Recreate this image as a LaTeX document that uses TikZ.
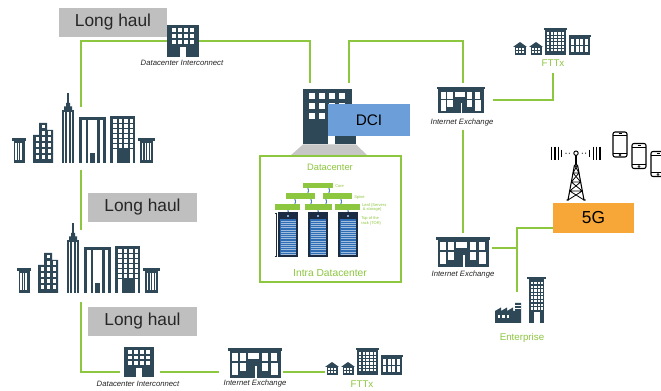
\documentclass[tikz,border=0pt]{standalone}
\usepackage{fontspec}
\setmainfont{Liberation Sans}
\usetikzlibrary{fit,arrows.meta}

\definecolor{linkgreen}{HTML}{8DC63F}
\definecolor{slate}{HTML}{2F4858}
\definecolor{haulgrey}{HTML}{BFBFBF}
\definecolor{dciblue}{HTML}{6C9FD9}
\definecolor{fiveg}{HTML}{F7A738}
\definecolor{rackblue}{HTML}{2E6DB4}
\definecolor{racknavy}{HTML}{1B2C42}
\definecolor{linkblue}{HTML}{4F81BD}
\definecolor{pedestal}{HTML}{C6C6C6}

\tikzset{
  link/.style={draw=linkgreen, line width=1.5pt},
  box/.style={inner sep=0pt, outer sep=0pt},
  bigtext/.style={inner sep=0pt, text=black!85, font=\fontsize{13}{15}\selectfont},
  haul/.style={box, fill=haulgrey},
  tag/.style={font=\fontsize{5.8}{6.5}\selectfont\itshape, text=black!85, inner sep=0pt},
  gtag/.style={font=\fontsize{7.3}{8.5}\selectfont, text=linkgreen, inner sep=0pt},
  tinytag/.style={font=\fontsize{3}{3.4}\selectfont, text=linkgreen, inner sep=0pt, align=left, anchor=west},
  bar/.style={fill=linkgreen},
  uplink/.style={draw=linkblue, line width=0.5pt, {Stealth[length=1pt,width=1.3pt]}-{Stealth[length=1pt,width=1.3pt]}},
  % small office block with a door
  office/.pic={
    \fill[slate] (0,0) rectangle (32,32);
    \foreach \i in {0,...,3}
      \foreach \j in {0,1,2}
        \fill[white] ({4.5+\i*6.2},{3.5+\j*5.6}) rectangle ++(4.2,4);
    \fill[white] (13,22) rectangle (19,32);
  },
  % exchange hall with cornice
  exchange/.pic={
    \fill[slate] (0,0) rectangle (54,2.6);
    \fill[slate] (1.5,2.6) rectangle (52.5,30);
    \foreach \x in {4,11.5,33.5,42.5}
      \fill[white] (\x,5.5) rectangle ++(6,8);
    \fill[white] (20,5.5) rectangle (31,11.5);
    \fill[white] (4,15.5) rectangle (10,27.5);
    \fill[white] (11.5,15.5) rectangle (17.5,23);
    \fill[white] (33.5,15.5) rectangle (39.5,23);
    \fill[white] (42.5,15.5) rectangle (49.5,27.5);
    \fill[white] (27,18) rectangle (28.6,30);
  },
  % homes and apartment blocks, origin at the left house base
  homes/.pic={
    \foreach \h in {0,16}{
      \fill[slate] ({\h-1},-8) -- ({\h+6},-13) -- ({\h+13},-8) -- cycle;
      \fill[slate] ({\h+0.5},-8) rectangle ({\h+11.5},0);
      \foreach \i in {0,1,2}
        \foreach \j in {0,1}
          \fill[white] ({\h+2+\i*3},{-6.5+\j*3}) rectangle ++(2,2);
    }
    \fill[slate] (30,-26.5) rectangle (53,-24.5);
    \fill[slate] (31,-24.5) rectangle (52,0);
    \foreach \i in {0,...,4}
      \foreach \j in {0,...,5}
        \fill[white] ({33+\i*3.7},{-22.5+\j*3.3}) rectangle ++(2.4,2.3);
    \fill[slate] (54.5,-19.5) rectangle (76.5,-17.5);
    \fill[slate] (55,-17.5) rectangle (76,0);
    \foreach \i in {0,...,3}
      \foreach \j in {0,1}
        \fill[white] ({57+\i*4.6},{-15.5+\j*7}) rectangle ++(3,6);
  },
  % city skyline
  skyline/.pic={
    % left kiosk
    \fill[slate] (12,138) rectangle (26,141);
    \fill[slate] (13.5,141) rectangle (24.5,163);
    \foreach \x in {15.3,17.8,20.3}
      \fill[white] (\x,143.5) rectangle ++(1.3,17);
    % stepped block
    \fill[slate] (39,123) -- (47,123) -- (47,130) -- (53,130) -- (53,163)
      -- (33,163) -- (33,135) -- (39,135) -- cycle;
    \fill[white] (41.5,125) rectangle ++(3.5,3.5);
    \foreach \j in {0,...,4}{
      \fill[white] (41.5,{131+\j*6}) rectangle ++(3.5,4);
      \fill[white] (47.5,{131+\j*6}) rectangle ++(3.5,4);
    }
    \foreach \j in {0,...,3}
      \fill[white] (35.5,{137+\j*6}) rectangle ++(3.5,4);
    % spire tower
    \draw[slate, line width=0.9pt] (68,93) -- (68,104);
    \fill[slate] (66,103) -- (70,103) -- (70,106.5) -- (72,106.5) -- (72,110)
      -- (64,110) -- (64,106.5) -- (66,106.5) -- cycle;
    \fill[slate] (62,110) rectangle (74,163);
    \foreach \x in {63.8,67.2,70.6}
      \fill[white] (\x,112) rectangle ++(1.6,51);
    % pillared tower
    \fill[slate] (79,117) rectangle (106,163);
    \fill[white] (82,120) rectangle (85.5,163);
    \fill[white] (88,120) rectangle (97,163);
    \fill[white] (99.5,120) rectangle (103,163);
    \fill[slate] (89.5,153) rectangle (95,163);
    % gridded tower
    \fill[slate] (110,116) rectangle (135,163);
    \foreach \i in {0,...,3}
      \foreach \j in {0,...,5}
        \fill[white] ({113+\i*5.5},{119+\j*5}) rectangle ++(3.5,4);
    \fill[white] (113,149) rectangle ++(3.5,14);
    \fill[white] (129.5,149) rectangle ++(3.5,14);
    % right kiosk
    \fill[slate] (138,138) rectangle (155,141);
    \fill[slate] (140,141) rectangle (153,163);
    \foreach \x in {142,144.7,147.4,150.1}
      \fill[white] (\x,143.5) rectangle ++(1.2,17);
  },
  % server rack
  rack/.pic={
    \fill[rackblue] (0,0) rectangle (18,43);
    \fill[racknavy] (0,0) rectangle (18,6);
    \fill[rackblue!60!white] (8,2) rectangle (10,4);
    \foreach \k in {0,...,15}
      \draw[rackblue!45!white, line width=0.3pt] (1.5,{8+\k*2.2}) -- (16.5,{8+\k*2.2});
    \draw[racknavy, line width=0.8pt] (0,0) rectangle (18,43);
  },
  % handset
  phone/.pic={
    \draw[black, line width=0.8pt, rounded corners=1.5pt] (0,0) rectangle (14,25);
    \draw[black, line width=0.5pt] (0,3.5) -- (14,3.5) (0,21) -- (14,21);
    \draw[black, line width=0.5pt] (5.5,1.8) -- (8.5,1.8);
    \draw[black, line width=0.4pt] (7,23) circle (0.9);
  },
}

\begin{document}
\begin{tikzpicture}[x=0.75pt, y=-0.75pt]
\useasboundingbox (0,0) rectangle (661,391);
\fill[white] (0,0) rectangle (661,391);

% ---------- long-haul banners ----------
\node[haul, fit={(59,8)(167,37)}] (lh1) {};
\node[bigtext] (lh1t) at (lh1.center) {Long haul};
\node[haul, fit={(88,193)(197,222)}] (lh2) {};
\node[bigtext] (lh2t) at (lh2.center) {Long haul};
\node[haul, fit={(88,307)(197,336)}] (lh3) {};
\node[bigtext] (lh3t) at (lh3.center) {Long haul};

% ---------- cities ----------
\node[box, fit={(12,93)(155,163)}] (city1) {};
\pic at (0,0) {skyline};
\node[box, fit={(17,223)(160,293)}] (city2) {};
\pic at (5,130) {skyline};

% ---------- datacenter interconnect offices ----------
\node[box, fit={(167,25)(199,57)}] (dcitop) {};
\pic at (dcitop.north west) {office};
\node[tag] (dcitopl) at (182,63) {Datacenter Interconnect};

\node[box, fit={(124,347)(154,378)}] (dcibot) {};
\pic[scale=0.95] at (dcibot.north west) {office};
\node[tag] (dcibotl) at (138,384) {Datacenter Interconnect};

% ---------- internet exchanges ----------
\node[box, fit={(437,87)(485,113)}] (ix1) {};
\pic[xscale=0.89, yscale=0.87] at (ix1.north west) {exchange};
\node[tag] (ix1l) at (462,123) {Internet Exchange};

\node[box, fit={(436,237)(490,267)}] (ix2) {};
\pic at (ix2.north west) {exchange};
\node[tag] (ix2l) at (463,275) {Internet Exchange};

\node[box, fit={(228,348)(282,378)}] (ixb) {};
\pic at (ixb.north west) {exchange};
\node[tag] (ixbl) at (255,384) {Internet Exchange};

% ---------- FTTx ----------
\node[box, fit={(513,29)(591,55)}] (ftt1) {};
\pic at (514,55) {homes};
\node[gtag] (ftt1l) at (553,63) {FTTx};

\node[box, fit={(325,349)(402,375)}] (ftt2) {};
\pic at (326,375) {homes};
\node[gtag] (ftt2l) at (362,384) {FTTx};

% ---------- DCI hub ----------
\fill[slate] (303,89) rectangle (352,144);
\foreach \i in {0,...,3}
  \foreach \j in {0,1,2}
    \fill[white] ({308.5+\i*10},{93+\j*10}) rectangle ++(6,6);
\fill[white] (328,134) rectangle (335,144);
\fill[slate] (335,134) rectangle (356,144);
\fill[pedestal] (303,144.5) -- (356,144.5) -- (368,156) -- (290,156) -- cycle;
\node[box, fill=dciblue, fit={(328,104)(410,136)}] (dci) {};
\node[bigtext, font=\fontsize{11.5}{13}\selectfont, text=black] (dcit) at (dci.center) {DCI};

% ---------- datacenter fabric ----------
\node[box, draw=linkgreen, line width=0.8pt, fit={(260,156)(401,282)}] (dc) {};
\node[gtag, font=\fontsize{7}{8}\selectfont] (dct) at (330,167) {Datacenter};
\node[gtag, font=\fontsize{7.7}{9}\selectfont] (dcb) at (330,273) {Intra Datacenter};

\fill[bar] (303,183) rectangle (333,188);
\fill[bar] (286,193) rectangle (315,199);
\fill[bar] (323,193) rectangle (352,199);
\fill[bar] (275,204) rectangle (300,210);
\fill[bar] (305,204) rectangle (332,210);
\fill[bar] (335,204) rectangle (360,210);
\foreach \x in {308,329}
  \draw[uplink] (\x,188) -- (\x,193);
\foreach \x in {295,311,326,341}
  \draw[uplink] (\x,199) -- (\x,204);
\foreach \x in {288,318,348}
  \draw[uplink] (\x,210) -- (\x,213);
\pic at (279,213) {rack};
\pic at (309,213) {rack};
\pic at (339,213) {rack};
\draw[racknavy, line width=0.4pt] (276,213) -- (276,256)
  (274.8,213) -- (277.2,213) (274.8,256) -- (277.2,256);
\node[tinytag] (lcore) at (335,186) {Core};
\node[tinytag] (lspine) at (354,197) {Spine};
\node[tinytag] (lleaf) at (362,207.5) {Leaf (Servers\\\,\& storage)};
\node[tinytag] (ltor) at (361,221) {Top of the\\rack (TOR)};

% ---------- 5G access ----------
\node[box, fill=fiveg, fit={(553,203)(634,233)}] (g5) {};
\node[bigtext, text=black] (g5t) at (g5.center) {5G};

% mast
\begin{scope}[black, line width=0.8pt]
  \draw (566.5,200) -- (568,200) -- (574.5,165) (585.5,200) -- (584,200) -- (577.5,165);
  \draw[line width=0.6pt]
    (568,200) -- (582.3,191) (584,200) -- (569.7,191)
    (569.7,191) -- (580.7,182) (582.3,191) -- (571.3,182)
    (571.3,182) -- (579,173) (580.7,182) -- (573,173)
    (573,173) -- (577.5,165) (579,173) -- (574.5,165)
    (569.7,191) -- (582.3,191) (571.3,182) -- (580.7,182) (573,173) -- (579,173)
    (574.5,165) -- (577.5,165);
  \draw (576,165) -- (576,155.4);
  \draw[line width=0.7pt] (576,153.2) circle (2.2);
  \foreach \x in {551.7,555,558.3,593.3,596.7,600}
    \draw (\x,146.7) -- (\x,159.7);
  \foreach \x in {561.7,589.3}
    \draw (\x,149.7) -- (\x,156.7);
  \foreach \x in {566,569.3,582.3,585.6}
    \fill (\x,153.2) circle (0.6);
\end{scope}

% handsets
\begin{scope}
  \clip (0,0) rectangle (661,391);
  \pic at (613,132) {phone};
  \pic at (632,143.5) {phone};
  \pic at (651,151.5) {phone};
\end{scope}

% ---------- enterprise ----------
\node[box, fit={(495,277)(546,323)}] (ent) {};
\fill[slate] (495,323) -- (495,311) -- (501,307.5) -- (501,311) -- (507,307.5) -- (507,311)
  -- (513,307.5) -- (513,311) -- (515,311) -- (515,303) -- (521,303) -- (521,323) -- cycle;
\fill[white] (515,305.5) rectangle (521,306.4);
\fill[white] (515,308.3) rectangle (521,309.2);
\foreach \x in {497.5,502,506.5}
  \fill[white] (\x,315) rectangle ++(2.5,3);
\fill[slate] (527,277) rectangle (546,279.5);
\fill[slate] (529,279.5) rectangle (544,323);
\foreach \i in {0,...,3}
  \foreach \j in {0,...,7}
    \fill[white] ({531+\i*3.4},{282+\j*3.6}) rectangle ++(2.2,2.4);
\fill[white] (533.5,312.5) rectangle (539.5,323);
\node[gtag] (entl) at (522,338) {Enterprise};

% ---------- fibre links ----------
\coordinate (c1n) at (81,107);
\coordinate (c1s) at (81,170);
\coordinate (c2n) at (81,230);
\coordinate (c2s) at (81,302);
\coordinate (dciA) at (310,83);
\coordinate (dciB) at (349,83);
\coordinate (ix1n) at (463,83);
\coordinate (ix1e) at (493,100);
\coordinate (ftt1s) at (553,73);
\coordinate (ix1s) at (463,130);
\coordinate (ix2n) at (463,233);
\coordinate (ix2e) at (492,248);
\coordinate (hub) at (517,248);
\coordinate (entn) at (517,292);
\coordinate (g5w) at (553,228);
\coordinate (dcibw) at (120,372);
\coordinate (dcibe) at (160,372);
\coordinate (ixbw) at (219,372);
\coordinate (ixbe) at (283,372);
\coordinate (ftt2w) at (325,372);

\draw[link] (c1n) |- (dcitop.west);
\draw[link] (dcitop.east) -| (dciA);
\draw[link] (dciB) |- (ix1n |- dcitop.west) -- (ix1n);
\draw[link] (ix1e) -| (ftt1s);
\draw[link] (ix1s) -- (ix2n);
\draw[link] (ix2e) -- (hub);
\draw[link] (entn) |- (g5w);
\draw[link] (c1s) -- (c2n);
\draw[link] (c2s) |- (dcibw);
\draw[link] (dcibe) -- (ixbw);
\draw[link] (ixbe) -- (ftt2w);
\end{tikzpicture}
\end{document}
